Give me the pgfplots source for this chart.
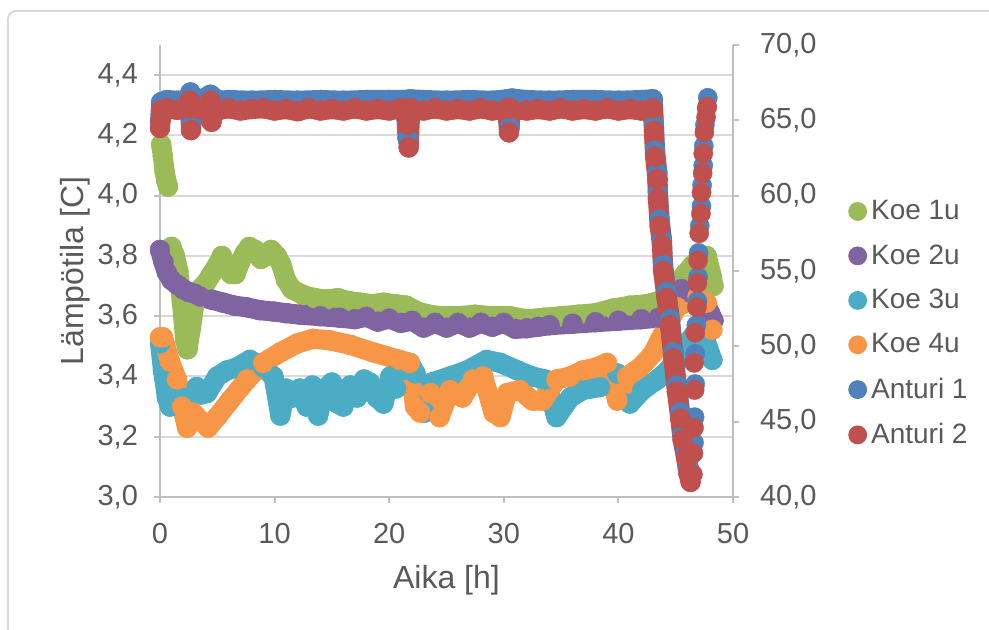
\documentclass[border=0pt]{standalone}
\usepackage{pgfplots}
\pgfplotsset{compat=1.18}
\usepackage{fontspec}
\setmainfont{Liberation Sans}
\definecolor{txt}{HTML}{595959}
\definecolor{axl}{HTML}{BFBFBF}
\definecolor{grd}{HTML}{D9D9D9}
\definecolor{cA}{HTML}{9BBB59}
\definecolor{cB}{HTML}{8064A2}
\definecolor{cC}{HTML}{4BACC6}
\definecolor{cD}{HTML}{F79646}
\definecolor{cE}{HTML}{4F81BD}
\definecolor{cF}{HTML}{C0504D}
\begin{document}
\begin{tikzpicture}[x=1pt,y=1pt]
\useasboundingbox (-80,-66.5) rectangle (414.5,248.5);
\draw[grd, line width=1pt, rounded corners=4pt] (-76,-90) -- (-76,243) -- (440,243);
\pgfplotsset{
  base/.style={scale only axis, width=286.5pt, height=226pt, xmin=0, xmax=50,
    at={(0pt,0pt)}, anchor=south west,
    tick label style={text=txt, font=\fontsize{14.5}{17.4}\selectfont},
    label style={text=txt, font=\fontsize{16}{19.2}\selectfont},
    axis line style={axl, line width=1pt},
    tick style={axl, line width=1pt},
    major tick length=3pt,
    /pgf/number format/assume math mode=true,
    clip=false},
  ser/.style={line width=10pt, line join=round, line cap=round, mark=*, mark size=5pt, mark options={line width=0.2pt}, forget plot, unbounded coords=jump},
  dots/.style={only marks, mark=*, mark size=4.8pt, mark options={line width=0.2pt}, forget plot},
}
\begin{axis}[base, ymin=3, ymax=4.5,
  axis x line*=bottom, axis y line*=left, tick align=outside,
  xtick={0,10,20,30,40,50},
  ytick={3.0,3.2,3.4,3.6,3.8,4.0,4.2,4.4},
  yticklabel style={xshift=-4.5pt, /pgf/number format/.cd, fixed, fixed zerofill, precision=1, use comma},
  xticklabel style={yshift=-6.5pt},
  ymajorgrids, grid style={grd, line width=1pt},
  xlabel={Aika [h]}, ylabel={Lämpötila [C]},
  xlabel style={at={(axis description cs:0.5,-0.1836)}, anchor=center},
  ylabel style={at={(axis description cs:-0.148,0.5)}, anchor=center},
]
% Koe 1u
\addplot[cA, ser] coordinates {(0.1,4.17) (0.25,4.13) (0.4,4.08) (0.55,4.05) (0.7,4.03) (0.85,nan)
(1.0,3.83) (1.3,3.80) (1.6,3.75) (1.9,3.65) (2.2,3.52) (2.4,3.49) (2.7,3.56) (3.0,3.64) (3.5,3.69)
(4.0,3.71) (4.5,3.74) (5.0,3.77) (5.4,3.80) (5.8,3.77) (6.2,3.74) (6.6,3.74) (7.0,3.78) (7.4,3.81)
(7.8,3.83) (8.3,3.82) (8.8,3.79) (9.3,3.80) (9.7,3.82) (10.2,3.80) (10.6,3.77) (11.0,3.72) (11.5,3.69)
(12.5,3.67) (13.5,3.66) (14.5,3.655) (15.5,3.66) (16.5,3.65) (17.5,3.645) (18.5,3.64) (19.5,3.645)
(20.5,3.64) (21.5,3.635) (22.5,3.615) (23.5,3.605) (24.5,3.60) (26,3.60) (27.5,3.605) (29,3.60)
(30.5,3.60) (32,3.59) (33.5,3.595) (35,3.60) (36.5,3.605) (38,3.61) (39.5,3.625) (41,3.635)
(42.5,3.64) (43.5,3.65) (44.3,3.67) (45,3.70) (45.8,3.74) (46.5,3.77) (47.2,3.80) (47.7,3.80)
(48.1,3.74) (48.3,3.70)};
% Koe 2u
\addplot[cB, ser] coordinates {(0,3.82) (0.3,3.78) (0.6,3.745) (1.0,3.72) (1.5,3.705) (2.0,3.69)
(2.5,3.68) (3.0,3.675) (3.5,3.665) (4.5,3.655) (5.5,3.645) (6.5,3.635) (7.5,3.63) (8.7,3.62)
(10,3.615) (11,3.61) (12.2,3.605) (14,3.60) (15.7,3.595) (17,3.59) (18,3.598) (19,3.582) (20,3.592)
(21,3.578) (22,3.585) (23,3.562) (24,3.578) (25,3.562) (26,3.578) (27,3.562) (28,3.578) (29,3.565)
(30,3.578) (31,3.558) (32,3.56) (33,3.565) (34,3.57) (36,3.575) (38,3.58) (40,3.585) (42,3.59)
(43.5,3.595) (44.3,3.62) (45,3.67) (45.5,3.69) (46,3.68) (46.8,3.67) (47.5,3.645) (48,3.61) (48.3,3.585)};
% Koe 3u
\addplot[cC, ser] coordinates {(0,3.51) (0.26,3.42) (0.6,3.33) (0.87,3.30) (1.13,3.345) (1.5,3.31)
(1.9,3.33) (2.6,3.33) (3.2,3.365) (3.6,3.34) (4.1,3.345) (5.0,3.40) (5.85,3.42) (6.7,3.43)
(7.85,3.455) (9.0,3.43) (9.9,3.40) (10.5,3.27) (11.0,3.36) (11.6,3.33) (12.2,3.36) (12.8,3.30)
(13.3,3.37) (13.8,3.27) (14.4,3.36) (15.0,3.38) (15.5,3.31) (16.0,3.30) (16.6,3.37) (17.2,3.33)
(17.8,3.39) (18.3,3.38) (18.9,3.33) (19.5,3.31) (20.1,3.40) (20.6,3.36) (21.2,3.42) (21.8,3.445)
(22.3,3.41) (22.7,3.30) (23.1,3.28) (23.7,3.38) (25.3,3.40) (26.8,3.42) (28.5,3.455) (29.7,3.445)
(31.2,3.42) (32.5,3.40) (33.6,3.39) (34.6,3.265) (35.8,3.33) (36.9,3.355) (38.4,3.365) (39.9,3.41)
(41.0,3.31) (42.1,3.355) (43.4,3.39) (44.3,3.42) (45.4,3.475) (46.2,3.52) (46.9,3.555) (47.6,3.52)
(48.2,3.455)};
% Koe 4u
\addplot[cD, ser] coordinates {(0,3.53) (0.26,3.53) (0.87,3.45) (1.48,3.39) (1.92,3.30) (2.36,3.23)
(2.88,3.28) (3.49,3.255) (4.19,3.23) (4.97,3.265) (6.1,3.32) (7.6,3.39) (9.0,3.445) (10.5,3.48)
(12.0,3.51) (13.35,3.525) (14.8,3.52) (16.6,3.505) (18.6,3.48) (20.9,3.455) (21.8,3.445) (22.25,3.30)
(22.7,3.28) (23.6,3.345) (24.4,3.265) (25.3,3.355) (26.4,3.33) (27.3,3.39) (28.2,3.40) (29.1,3.28)
(29.7,3.265) (30.3,3.345) (31.4,3.355) (32.5,3.32) (33.4,3.32) (34.6,3.39) (35.8,3.40) (36.9,3.42)
(38.1,3.43) (39.0,3.445) (39.9,3.32) (40.75,3.40) (41.9,3.43) (43.0,3.475) (43.6,3.52) (45.1,3.63)
(46.9,3.665) (47.7,3.645) (48.2,3.555)};
\end{axis}
\begin{axis}[base, ymin=40, ymax=70,
  axis y line*=right, axis x line=none, tick align=outside,
  ytick={40,45,50,55,60,65,70},
  yticklabel style={xshift=7pt, /pgf/number format/.cd, fixed, fixed zerofill, precision=1, use comma},
  legend style={draw=none, fill=none, at={(1.19,0.384)}, anchor=west,
    font=\fontsize{14}{16.8}\selectfont, text=txt, row sep=7pt},
  legend cell align=left,
  legend image code/.code={\fill (0pt,0pt) circle (4.5pt);},
]
\addlegendimage{fill=cA, draw=cA}\addlegendentry{Koe 1u}
\addlegendimage{fill=cB, draw=cB}\addlegendentry{Koe 2u}
\addlegendimage{fill=cC, draw=cC}\addlegendentry{Koe 3u}
\addlegendimage{fill=cD, draw=cD}\addlegendentry{Koe 4u}
\addlegendimage{fill=cE, draw=cE}\addlegendentry{Anturi 1}
\addlegendimage{fill=cF, draw=cF}\addlegendentry{Anturi 2}
% Anturi 1
\addplot[cE, ser] coordinates {(0,64.9) (0.1,66.2) (0.6,66.35) (1.5,66.3) (2.5,66.35) (2.65,66.85)
(2.75,64.8) (2.85,66.45) (3.6,66.35) (4.4,66.7) (4.6,66.55) (5.2,66.3) (6,66.35) (8,66.3) (10,66.35)
(12,66.3) (14,66.35) (16,66.3) (18,66.35) (20,66.35) (21.4,66.35) (21.6,63.8) (21.8,66.4) (23,66.35)
(25,66.3) (27,66.35) (29,66.3) (30.3,66.4) (30.5,64.5) (30.7,66.45) (32,66.35) (34,66.3) (36,66.35)
(38,66.35) (40,66.3) (42,66.35) (43.0,66.4) (43.1,64.7) (43.2,63.0) (43.4,61.5) (43.45,60.2)
(43.6,58.4) (43.8,57.1) (43.9,55.4) (44.2,53.6) (44.5,51.8) (44.8,49.6) (45.1,47.4) (45.4,45.6)
(45.6,44.2) (45.9,43.0) (46.1,42.0) (46.3,41.6)};
\addplot[cE, dots] coordinates {(46.6,43.6) (46.65,45.3) (46.7,47.5) (46.7,49.5) (46.8,51.4)
(46.9,53.0) (46.95,54.6) (47.0,56.2) (47.1,58.0) (47.25,59.3) (47.3,60.7) (47.4,62.0) (47.45,63.3)
(47.55,64.7) (47.7,65.8) (47.8,66.5)};
% Anturi 2
\addplot[cF, ser] coordinates {(0,64.5) (0.05,65.0) (0.15,65.7) (0.6,65.8) (1.5,65.7) (2.5,65.8)
(2.6,66.3) (2.7,64.35) (2.8,65.8) (3.5,65.75) (4.4,66.3) (4.5,64.9) (4.6,65.9) (5.2,65.7) (6,65.8)
(7,65.65) (8,65.75) (9,65.8) (10,65.65) (11,65.75) (12,65.6) (13,65.8) (14,65.65) (15,65.75) (16,65.65)
(17,65.8) (18,65.65) (19,65.75) (20,65.65) (21,65.8) (21.5,65.7) (21.6,64.7) (21.7,63.2) (21.8,65.0)
(21.9,65.8) (23,65.65) (24,65.8) (25,65.65) (26,65.75) (27,65.65) (28,65.8) (29,65.65) (30.3,65.8)
(30.45,64.2) (30.6,65.8) (32,65.65) (33,65.75) (34,65.65) (35,65.8) (36,65.65) (37,65.75) (38,65.65)
(39,65.8) (40,65.65) (41,65.75) (42,65.65) (43.0,65.8) (43.1,64.3) (43.2,62.6) (43.4,61.1) (43.45,59.8)
(43.6,58.0) (43.8,56.7) (43.9,55.0) (44.2,53.2) (44.5,51.4) (44.8,49.2) (45.1,47.0) (45.4,45.2)
(45.6,43.8) (45.9,42.6) (46.1,41.6) (46.3,41.0)};
\addplot[cF, dots] coordinates {(46.5,41.5) (46.55,42.9) (46.6,44.6) (46.65,47.1) (46.6,48.9)
(46.7,50.9) (46.85,52.6) (46.9,54.2) (46.95,55.7) (47.05,57.5) (47.2,58.8) (47.25,60.2) (47.35,61.5)
(47.4,62.8) (47.5,64.2) (47.65,65.2) (47.75,65.9)};
\end{axis}
\end{tikzpicture}
\end{document}
